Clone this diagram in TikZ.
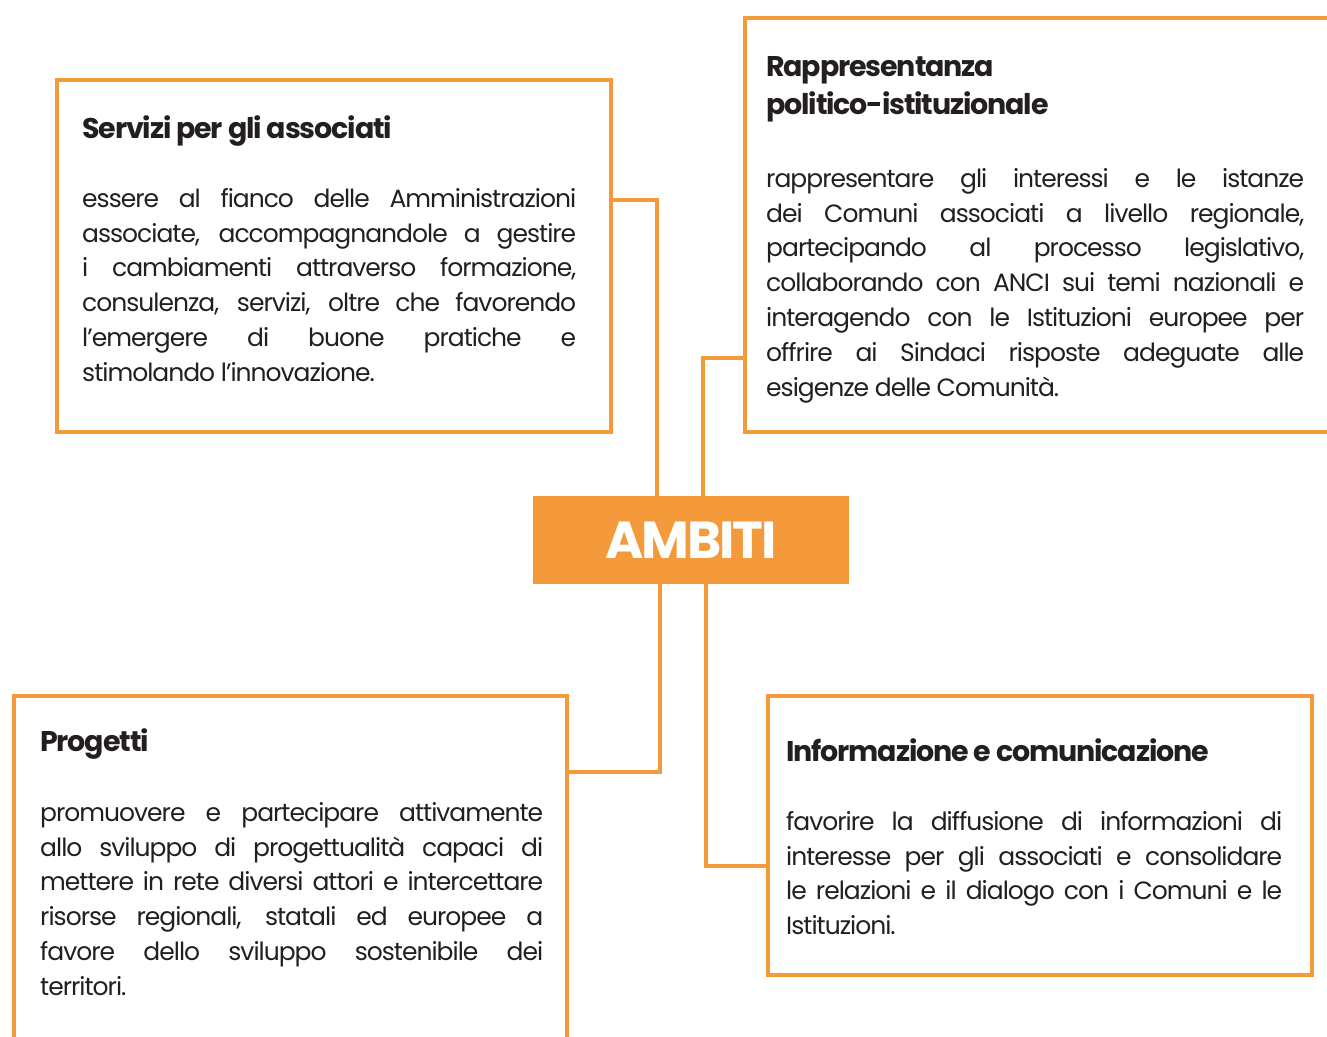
\documentclass[tikz,border=0pt]{standalone}
\usepackage{fontspec}
\setmainfont{Poppins}[LetterSpace=-4]
\definecolor{orng}{HTML}{F49A3A}
\definecolor{txt}{HTML}{231F20}
\hyphenpenalty=10000
\exhyphenpenalty=10000
\tolerance=10000
\emergencystretch=20pt
\tikzset{
  frame/.style={draw=orng, line width=4.5pt, rectangle, anchor=north west, inner sep=0pt, outer sep=0pt},
  conn/.style={draw=orng, line width=4.5pt},
  ttl/.style={anchor=base west, inner sep=0pt, text=txt, font=\fontsize{28.5}{38}\selectfont\bfseries, align=left},
  bodytxt/.style={anchor=north west, inner sep=0pt, text=txt, align=justify,
     font=\fontsize{25}{34.8}\selectfont},
}
\begin{document}
\begin{tikzpicture}[x=1pt,y=-1pt]
\useasboundingbox (0,0) rectangle (1327,1036);
\clip (0,0) rectangle (1327,1036);
% boxes
\node[frame, minimum width=554pt, minimum height=352pt] (serv) at (57,80) {};
\node[frame, minimum width=640pt, minimum height=414pt] (rapp) at (745,18) {};
\node[frame, minimum width=553pt, minimum height=380pt] (prog) at (14,696) {};
\node[frame, minimum width=544pt, minimum height=279pt] (info) at (768,696) {};
\node[fill=orng, rectangle, anchor=north west, minimum width=316pt, minimum height=88pt, inner sep=0pt, outer sep=0pt] (amb) at (533,496) {};
\node[text=white, font=\fontsize{52}{52}\selectfont\bfseries, inner sep=0pt] (ambt) at (amb.center) {AMBITI};
% connectors
\draw[conn] (serv.east |- 0,200) -| (amb.north -| 657,0);
\draw[conn] (rapp.west |- 0,358) -| (amb.north -| 703,0);
\draw[conn] (amb.south -| 660,0) |- (prog.east |- 0,772);
\draw[conn] (amb.south -| 706,0) |- (info.west |- 0,866);
% texts
\node[ttl] (t1) at (82,138) {Servizi per gli associati};
\node[bodytxt, text width=494pt] (b1) at (82,188) {essere al fianco delle Amministrazioni\linebreak associate, accompagnandole a gestire\linebreak i cambiamenti attraverso formazione,\linebreak consulenza, servizi, oltre che favorendo\linebreak l’emergere di buone pratiche e\linebreak stimolando l’innovazione.};
\node[ttl] (t2) at (766,114) {Rappresentanza\\politico-istituzionale};
\node[bodytxt, text width=538pt] (b2) at (766,168) {rappresentare gli interessi e le istanze\linebreak dei Comuni associati a livello regionale,\linebreak partecipando al processo legislativo,\linebreak collaborando con ANCI sui temi nazionali e\linebreak interagendo con le Istituzioni europee per\linebreak offrire ai Sindaci risposte adeguate alle\linebreak esigenze delle Comunità.};
\node[ttl] (t3) at (40,751) {Progetti};
\node[bodytxt, text width=503pt] (b3) at (40,802) {promuovere e partecipare attivamente\linebreak allo sviluppo di progettualità capaci di\linebreak mettere in rete diversi attori e intercettare\linebreak risorse regionali, statali ed europee a\linebreak favore dello sviluppo sostenibile dei\linebreak territori.};
\node[ttl] (t4) at (786,761) {Informazione e comunicazione};
\node[bodytxt, text width=496pt] (b4) at (786,811) {favorire la diffusione di informazioni di\linebreak interesse per gli associati e consolidare\linebreak le relazioni e il dialogo con i Comuni e le\linebreak Istituzioni.};
\end{tikzpicture}
\end{document}
